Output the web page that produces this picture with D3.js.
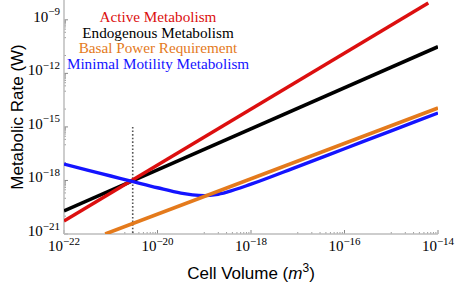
<!DOCTYPE html>
<html>
<head>
<meta charset="utf-8">
<script src="https://cdn.jsdelivr.net/npm/d3@7"></script>
<style>
  body { margin: 0; background: #fff; }
  svg { display: block; }
</style>
</head>
<body>
<div id="chart"></div>
<script>
// values (log-log axes)
const xTickValues = [1e-22, 1e-20, 1e-18, 1e-16, 1e-14];
const yTickValues = [1e-21, 1e-18, 1e-15, 1e-12, 1e-9];

const activeVolume = [1e-22, 6.2e-15];
const activeRate = [5.4e-21, 8.7e-9];

const endogenousVolume = [1e-22, 1e-14];
const endogenousRate = [1.95e-20, 3.1e-11];

const basalVolume = [7.6e-22, 1e-14];
const basalRate = [1e-21, 1.15e-14];

const motilityVolume = [1e-22, 3.16e-22, 1e-21, 3.16e-21, 1e-20, 3.16e-20, 5.6e-20, 1e-19, 1.78e-19, 3.16e-19, 1e-18, 1e-17, 1e-16, 1e-15, 1e-14];
const motilityRate = [8.3e-18, 3.8e-18, 1.78e-18, 8.3e-19, 3.9e-19, 1.95e-19, 1.55e-19, 1.41e-19, 1.62e-19, 2.3e-19, 6.2e-19, 6.0e-18, 6.0e-17, 6.0e-16, 6.0e-15];

const markerVolume = 2.95e-21;   // dotted vertical line
const markerTop = 1e-15;

const seriesNames = ["Active Metabolism", "Endogenous Metabolism", "Basal Power Requirement", "Minimal Motility Metabolism"];
const seriesColors = ["#dc0f0f", "#000000", "#e47a1c", "#1414ff"];

const W = 459, H = 286;
const margin = {top: 0, right: 21, bottom: 52, left: 64};

const svg = d3.select("#chart").append("svg")
    .attr("width", W)
    .attr("height", H);

const x = d3.scaleLog()
    .domain([1e-22, 1e-14])
    .range([margin.left, W - margin.right]);

const y = d3.scaleLog()
    .domain([1e-21, 1.29e-8])
    .range([H - margin.bottom, margin.top]);

const x0 = x.range()[0], x1 = x.range()[1];
const yBot = y.range()[0], yTop = y.range()[1];

svg.append("clipPath").attr("id", "plot-clip")
    .append("rect")
    .attr("x", x0).attr("y", yTop)
    .attr("width", x1 - x0).attr("height", yBot - yTop);

// minor ticks
const xMinor = [];
[-21, -19, -17, -15].forEach(n => { for (let k = 1; k <= 9; k++) xMinor.push(k * Math.pow(10, n)); });
const yMinor = [];
[-18, -15, -12, -9].forEach(m => {
    for (let k = 1; k <= 9; k++) yMinor.push(k * Math.pow(10, m - 1));
    yMinor.push(Math.pow(10, m - 2));
});

const axisColor = "#bdbdbd";

svg.append("g").selectAll("line.xminor")
    .data(xMinor)
    .join("line")
    .attr("x1", d => x(d)).attr("x2", d => x(d))
    .attr("y1", yBot).attr("y2", yBot - 2)
    .attr("stroke", "#888").attr("stroke-width", 0.8);

svg.append("g").selectAll("line.yminor")
    .data(yMinor.filter(d => y(d) > yTop))
    .join("line")
    .attr("x1", x0).attr("x2", x0 + 2)
    .attr("y1", d => y(d)).attr("y2", d => y(d))
    .attr("stroke", "#888").attr("stroke-width", 0.8);

// major ticks
svg.append("g").selectAll("line")
    .data(xTickValues)
    .join("line")
    .attr("x1", d => x(d)).attr("x2", d => x(d))
    .attr("y1", yBot).attr("y2", yBot - 4)
    .attr("stroke", "#888").attr("stroke-width", 1);

svg.append("g").selectAll("line")
    .data(yTickValues)
    .join("line")
    .attr("x1", x0).attr("x2", x0 + 4)
    .attr("y1", d => y(d)).attr("y2", d => y(d))
    .attr("stroke", "#888").attr("stroke-width", 1);

// axis lines
svg.append("line")
    .attr("x1", x0).attr("x2", x1)
    .attr("y1", yBot).attr("y2", yBot)
    .attr("stroke", axisColor).attr("stroke-width", 1.5);
svg.append("line")
    .attr("x1", x0).attr("x2", x0)
    .attr("y1", yBot).attr("y2", yTop)
    .attr("stroke", axisColor).attr("stroke-width", 1.5);

// tick labels like 10^-22
function powerLabel(sel) {
    sel.append("tspan").text("10");
    sel.append("tspan")
        .attr("dy", -6.5)
        .attr("font-size", 11)
        .text(d => "\u2212" + Math.round(-Math.log10(d)));
}

svg.append("g").selectAll("text")
    .data(xTickValues)
    .join("text")
    .attr("x", d => x(d))
    .attr("y", yBot + 17)
    .attr("text-anchor", "middle")
    .attr("font-family", "Liberation Serif, Times New Roman, serif")
    .attr("font-size", 15)
    .attr("fill", "#000")
    .call(powerLabel);

svg.append("g").selectAll("text")
    .data(yTickValues)
    .join("text")
    .attr("x", x0 - 4)
    .attr("y", d => y(d) + 2)
    .attr("text-anchor", "end")
    .attr("font-family", "Liberation Serif, Times New Roman, serif")
    .attr("font-size", 15)
    .attr("fill", "#000")
    .call(powerLabel);

// axis titles
const xTitle = svg.append("text")
    .attr("x", 251)
    .attr("y", 279)
    .attr("text-anchor", "middle")
    .attr("font-family", "Liberation Sans, Arial, sans-serif")
    .attr("font-size", 17)
    .attr("fill", "#000");
xTitle.append("tspan").text("Cell Volume (");
xTitle.append("tspan").attr("font-style", "italic").text("m");
xTitle.append("tspan").attr("dy", -7).attr("font-size", 12).text("3");
xTitle.append("tspan").attr("dy", 7).text(")");

svg.append("text")
    .attr("transform", "translate(23,117) rotate(-90)")
    .attr("text-anchor", "middle")
    .attr("font-family", "Liberation Sans, Arial, sans-serif")
    .attr("font-size", 17)
    .attr("fill", "#000")
    .text("Metabolic Rate (W)");

// curves
const plot = svg.append("g").attr("clip-path", "url(#plot-clip)");

plot.append("line")
    .attr("x1", x(markerVolume)).attr("x2", x(markerVolume))
    .attr("y1", y(markerTop)).attr("y2", yBot)
    .attr("stroke", "#555")
    .attr("stroke-width", 1.6)
    .attr("stroke-dasharray", "1.6,2");

const line = d3.line()
    .x(d => x(d[0]))
    .y(d => y(d[1]))
    .curve(d3.curveMonotoneX);

const series = [
    {vol: endogenousVolume, rate: endogenousRate, color: seriesColors[1], w: 3.6},
    {vol: activeVolume, rate: activeRate, color: seriesColors[0], w: 3.4},
    {vol: motilityVolume, rate: motilityRate, color: seriesColors[3], w: 3.4},
    {vol: basalVolume, rate: basalRate, color: seriesColors[2], w: 3.6}
];

series.forEach(s => {
    plot.append("path")
        .datum(s.vol.map((v, i) => [v, s.rate[i]]))
        .attr("d", line)
        .attr("fill", "none")
        .attr("stroke", s.color)
        .attr("stroke-width", s.w)
        .attr("stroke-linecap", "butt");
});

// legend
svg.append("g").selectAll("text")
    .data(seriesNames)
    .join("text")
    .attr("x", 158)
    .attr("y", (d, i) => 22 + i * 15.5)
    .attr("text-anchor", "middle")
    .attr("font-family", "Liberation Serif, Times New Roman, serif")
    .attr("font-size", 15.2)
    .attr("fill", (d, i) => seriesColors[i])
    .text(d => d);
</script>
</body>
</html>
